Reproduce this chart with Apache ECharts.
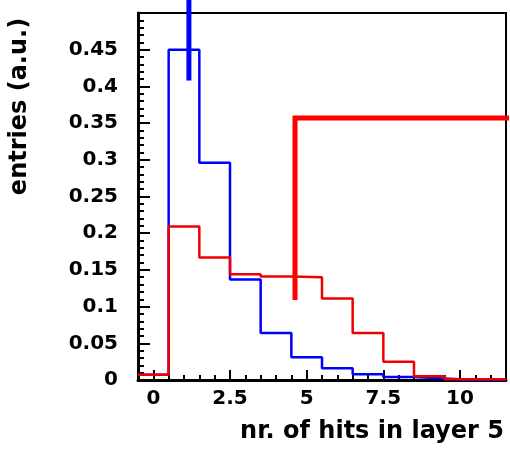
<!DOCTYPE html>
<html>
<head>
<meta charset="utf-8">
<script src="https://cdn.jsdelivr.net/npm/echarts@6/dist/echarts.min.js"></script>
<style>
  html, body { margin: 0; padding: 0; background: #fff; }
  #main { width: 510px; height: 449px; }
</style>
</head>
<body>
<div id="main"></div>
<script>
// bins are 1 wide, centred on the integers 0..11
const binCenters = [0, 1, 2, 3, 4, 5, 6, 7, 8, 9, 10, 11];
const blueHist = [0.007, 0.45, 0.296, 0.137, 0.064, 0.031, 0.016, 0.008, 0.004, 0.002, 0, 0];
const redHist = [0.007, 0.209, 0.167, 0.144, 0.141, 0.140, 0.111, 0.064, 0.025, 0.005, 0.001, 0.001];
const xTicks = [0, 2.5, 5, 7.5, 10];
// thick marker lines drawn over the histograms
const blueMarker = [[1.16, 0.408], [1.16, 0.53]];
const redMarker = [[4.62, 0.109], [4.62, 0.357], [11.7, 0.357]];

const font = 'DejaVu Sans';

// turn bin contents into an outline (left edge, right edge of every bin)
const stepLine = (vals) => {
  let pts = [];
  binCenters.forEach((c, i) => {
    pts.push([c - 0.5, vals[i]]);
    pts.push([c + 0.5, vals[i]]);
  });
  return pts;
};

let chart = echarts.init(document.getElementById('main'));
let option = {
  animation: false,
  backgroundColor: '#fff',
  grid: {
    left: 138, right: 4, top: 13, bottom: 69,
    show: true, borderColor: '#000', borderWidth: 2, backgroundColor: 'transparent'
  },
  xAxis: [
    {
      type: 'value', min: -0.5, max: 11.5,
      name: 'nr. of hits in layer 5',
      nameLocation: 'middle', nameGap: 40,
      nameTextStyle: { fontFamily: font, fontWeight: 'bold', fontSize: 24, color: '#000', padding: [0, 0, 0, 100] },
      axisLine: { show: true, onZero: false, lineStyle: { color: '#000', width: 3 } },
      axisTick: { show: true, inside: true, length: 10, customValues: xTicks, lineStyle: { color: '#000', width: 2 } },
      axisLabel: { customValues: xTicks, margin: 9, fontFamily: font, fontWeight: 'bold', fontSize: 20, color: '#000' },
      splitLine: { show: false }
    },
    {
      type: 'value', min: -0.5, max: 11.5, interval: 0.5, position: 'bottom',
      axisLine: { show: false, onZero: false },
      axisTick: { show: true, inside: true, length: 5, lineStyle: { color: '#000', width: 2 } },
      axisLabel: { show: false },
      splitLine: { show: false }
    }
  ],
  yAxis: {
    type: 'value', min: 0, max: 0.5, interval: 0.05,
    name: 'entries (a.u.)',
    nameLocation: 'middle', nameGap: 106,
    nameTextStyle: { fontFamily: font, fontWeight: 'bold', fontSize: 24, color: '#000', padding: [0, 0, 0, 180] },
    axisLine: { show: true, onZero: false, lineStyle: { color: '#000', width: 3 } },
    axisTick: { show: true, inside: true, length: 12, lineStyle: { color: '#000', width: 2 } },
    minorTick: { show: true, splitNumber: 5, length: 6, lineStyle: { color: '#000', width: 2 } },
    axisLabel: {
      margin: 20, fontFamily: font, fontWeight: 'bold', fontSize: 20, color: '#000',
      formatter: v => v > 0.499 ? '' : String(+v.toFixed(2))
    },
    splitLine: { show: false }
  },
  series: [
    {
      name: 'blue', type: 'line', data: stepLine(blueHist), showSymbol: false,
      lineStyle: { color: '#0000ff', width: 2.5 }, z: 2
    },
    {
      name: 'red', type: 'line', data: stepLine(redHist), showSymbol: false,
      lineStyle: { color: '#ee0000', width: 2.5 }, z: 3
    },
    {
      name: 'blue marker', type: 'line', data: blueMarker, showSymbol: false, clip: false,
      lineStyle: { color: '#0000ff', width: 5 }, z: 4
    },
    {
      name: 'red marker', type: 'line', data: redMarker, showSymbol: false, clip: false,
      lineStyle: { color: '#ff0000', width: 5, join: 'miter' }, z: 4
    }
  ]
};
chart.setOption(option);
</script>
</body>
</html>
